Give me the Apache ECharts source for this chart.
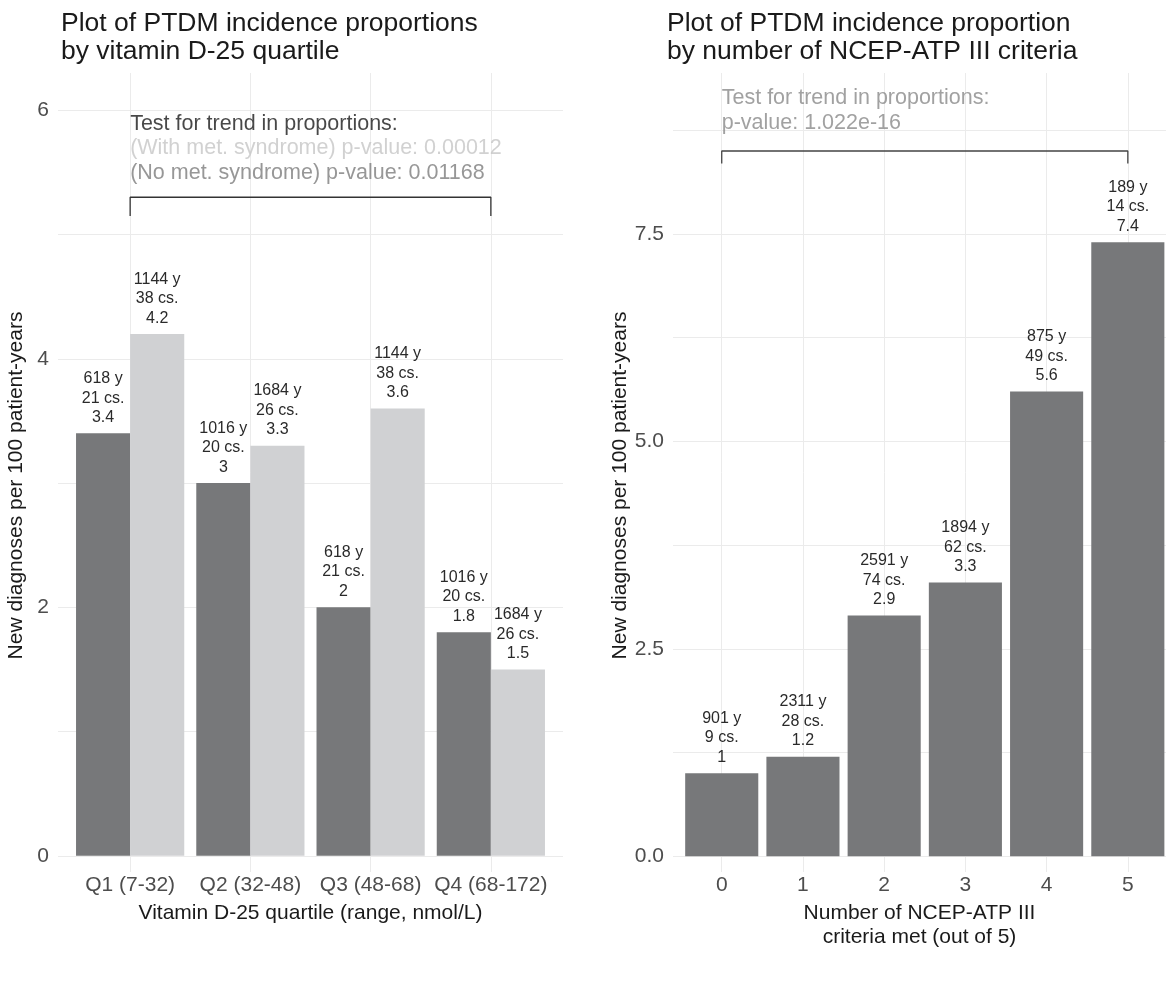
<!DOCTYPE html>
<html>
<head>
<meta charset="utf-8">
<script src="https://cdn.jsdelivr.net/npm/echarts@6/dist/echarts.min.js"></script>
<style>
  html, body { margin: 0; padding: 0; background: #ffffff; }
  #chart { width: 1166px; height: 983px; }
</style>
</head>
<body>
<div id="chart"></div>
<script>
// ---- Left panel: PTDM incidence by vitamin D-25 quartile ----
const quartiles = ['Q1 (7-32)', 'Q2 (32-48)', 'Q3 (48-68)', 'Q4 (68-172)'];
const noMetYears = [618, 1016, 618, 1016];
const noMetCases = [21, 20, 21, 20];
const noMetRate = [3.4, 3, 2, 1.8];
const metYears = [1144, 1684, 1144, 1684];
const metCases = [38, 26, 38, 26];
const metRate = [4.2, 3.3, 3.6, 1.5];
const leftLabelTicks = [0, 2, 4, 6];
const leftGridTicks = [0, 1, 2, 3, 4, 5, 6];
const leftTrendLines = [
  'Test for trend in proportions:',
  '(With met. syndrome) p-value: 0.00012',
  '(No met. syndrome) p-value: 0.01168'
];

// ---- Right panel: PTDM incidence by number of NCEP-ATP III criteria ----
const criteria = ['0', '1', '2', '3', '4', '5'];
const critYears = [901, 2311, 2591, 1894, 875, 189];
const critCases = [9, 28, 74, 62, 49, 14];
const critRate = [1, 1.2, 2.9, 3.3, 5.6, 7.4];
const rightLabelTicks = [0, 2.5, 5, 7.5];
const rightGridTicks = [0, 1.25, 2.5, 3.75, 5, 6.25, 7.5, 8.75];
const rightTrendLines = [
  'Test for trend in proportions:',
  'p-value: 1.022e-16'
];

// ---- layout & style ----
const FONT = '"Liberation Sans", Arial, Helvetica, sans-serif';
const DARK = '#77787a';
const LIGHT = '#d0d1d3';
const GRIDLINE = '#ebebeb';
const AXIS_TEXT = 21;

const leftGrid = { left: 58, top: 73, width: 505, height: 799 };
const rightGrid = { left: 673, top: 73, width: 493, height: 799 };
// right panel runs off the page edge, so its window stops short of the usual 0.6 padding
const leftX = { min: -0.6, max: 3.6 };
const rightX = { min: -0.6, max: 5.47 };
const leftY = { min: -0.13, max: 6.3 };
const rightY = { min: -0.19, max: 9.44 };
const leftUnit = leftGrid.width / (leftX.max - leftX.min);
const rightUnit = rightGrid.width / (rightX.max - rightX.min);

// bracket spans and annotation anchors (data units)
const leftBracket = { from: 0, to: 3, y: 5.3, drop: 0.15 };
const rightBracket = { from: 0, to: 5, y: 8.5, drop: 0.15 };
const leftNoteAnchor = [0, 5.4];
const rightNoteAnchor = [0, 8.69];

const chart = echarts.init(document.getElementById('chart'), null, { renderer: 'canvas' });

function barLabel(years, cases, rate) {
  return {
    show: true,
    position: 'top',
    distance: 6,
    fontSize: 16,
    lineHeight: 19.5,
    color: '#2a2a2a',
    fontFamily: FONT,
    formatter: p => years[p.dataIndex] + ' y\n' + cases[p.dataIndex] + ' cs.\n' + rate[p.dataIndex]
  };
}

function bracketData(b) {
  return [[b.from, b.y - b.drop], [b.from, b.y], [b.to, b.y], [b.to, b.y - b.drop]];
}

function xAxisCfg(gridIndex, range, ticks, names, nameText) {
  return {
    gridIndex, type: 'value', min: range.min, max: range.max,
    axisLine: { show: false, onZero: false },
    axisTick: { show: false, customValues: ticks },
    axisLabel: {
      customValues: ticks, fontSize: AXIS_TEXT, color: '#4d4d4d', margin: 3, fontFamily: FONT,
      formatter: v => names[Math.round(v)]
    },
    splitLine: { show: true, lineStyle: { color: GRIDLINE, width: 1 } },
    name: nameText, nameLocation: 'middle', nameGap: 27,
    nameTextStyle: { fontSize: AXIS_TEXT, color: '#1a1a1a', fontFamily: FONT, lineHeight: 24 }
  };
}

function yAxisCfg(gridIndex, range, gridTicks, labelTicks, fmt, nameGap) {
  return {
    gridIndex, type: 'value', min: range.min, max: range.max,
    axisLine: { show: false },
    axisTick: { show: false, customValues: gridTicks },
    axisLabel: { customValues: labelTicks, fontSize: AXIS_TEXT, color: '#4d4d4d', margin: 9, fontFamily: FONT, formatter: fmt },
    splitLine: { show: true, lineStyle: { color: GRIDLINE, width: 1 } },
    name: 'New diagnoses per 100 patient-years', nameLocation: 'middle', nameGap: nameGap,
    // extra padding on one end nudges the rotated title a little lower along the axis
    nameTextStyle: { fontSize: AXIS_TEXT, color: '#1a1a1a', fontFamily: FONT, padding: [0, 26, 0, 0] }
  };
}

const titleStyle = { fontSize: 26.5, fontWeight: 'normal', color: '#1a1a1a', lineHeight: 28, fontFamily: FONT };

const option = {
  animation: false,
  backgroundColor: '#ffffff',
  textStyle: { fontFamily: FONT },
  title: [
    {
      text: 'Plot of PTDM incidence proportions\nby vitamin D-25 quartile',
      left: 61, top: 10, padding: 0, textStyle: titleStyle
    },
    {
      text: 'Plot of PTDM incidence proportion\nby number of NCEP-ATP III criteria',
      left: 667, top: 10, padding: 0, textStyle: titleStyle
    }
  ],
  grid: [
    Object.assign({ containLabel: false }, leftGrid),
    Object.assign({ containLabel: false }, rightGrid)
  ],
  xAxis: [
    xAxisCfg(0, leftX, [0, 1, 2, 3], quartiles, 'Vitamin D-25 quartile (range, nmol/L)'),
    xAxisCfg(1, rightX, [0, 1, 2, 3, 4, 5], criteria, 'Number of NCEP-ATP III\ncriteria met (out of 5)')
  ],
  yAxis: [
    yAxisCfg(0, leftY, leftGridTicks, leftLabelTicks, v => String(v), 31),
    yAxisCfg(1, rightY, rightGridTicks, rightLabelTicks, v => v.toFixed(1), 42)
  ],
  series: [
    {
      name: 'No met. syndrome', type: 'bar', xAxisIndex: 0, yAxisIndex: 0,
      data: noMetRate.map((v, i) => [i, v]),
      barWidth: 0.45 * leftUnit, barGap: '0%',
      itemStyle: { color: DARK },
      label: barLabel(noMetYears, noMetCases, noMetRate),
      silent: true
    },
    {
      name: 'With met. syndrome', type: 'bar', xAxisIndex: 0, yAxisIndex: 0,
      data: metRate.map((v, i) => [i, v]),
      barWidth: 0.45 * leftUnit, barGap: '0%',
      itemStyle: { color: LIGHT },
      label: barLabel(metYears, metCases, metRate),
      silent: true
    },
    {
      name: 'Criteria met', type: 'bar', xAxisIndex: 1, yAxisIndex: 1,
      data: critRate.map((v, i) => [i, v]),
      barWidth: 0.9 * rightUnit,
      itemStyle: { color: DARK },
      label: barLabel(critYears, critCases, critRate),
      silent: true
    },
    {
      type: 'line', xAxisIndex: 0, yAxisIndex: 0, silent: true,
      data: bracketData(leftBracket), symbol: 'none',
      lineStyle: { color: '#333333', width: 1.3 }
    },
    {
      type: 'line', xAxisIndex: 1, yAxisIndex: 1, silent: true,
      data: bracketData(rightBracket), symbol: 'none',
      lineStyle: { color: '#444444', width: 1.3 }
    },
    {
      type: 'scatter', xAxisIndex: 0, yAxisIndex: 0, silent: true,
      data: [leftNoteAnchor], symbolSize: 0,
      label: {
        show: true, position: 'right', distance: 0, align: 'left', verticalAlign: 'bottom',
        formatter: '{a|' + leftTrendLines[0] + '}\n{b|' + leftTrendLines[1] + '}\n{c|' + leftTrendLines[2] + '}',
        rich: {
          a: { fontSize: 21.5, lineHeight: 24.5, color: '#1a1a1a', fontFamily: FONT },
          b: { fontSize: 21.5, lineHeight: 24.5, color: '#c6c6c6', fontFamily: FONT },
          c: { fontSize: 21.5, lineHeight: 24.5, color: '#7d7d7d', fontFamily: FONT }
        }
      }
    },
    {
      type: 'scatter', xAxisIndex: 1, yAxisIndex: 1, silent: true,
      data: [rightNoteAnchor], symbolSize: 0,
      label: {
        show: true, position: 'right', distance: 0, align: 'left', verticalAlign: 'bottom',
        formatter: rightTrendLines.join('\n'),
        fontSize: 21.5, lineHeight: 24.5, color: '#8a8a8a', fontFamily: FONT
      }
    }
  ]
};

chart.setOption(option);
</script>
</body>
</html>
